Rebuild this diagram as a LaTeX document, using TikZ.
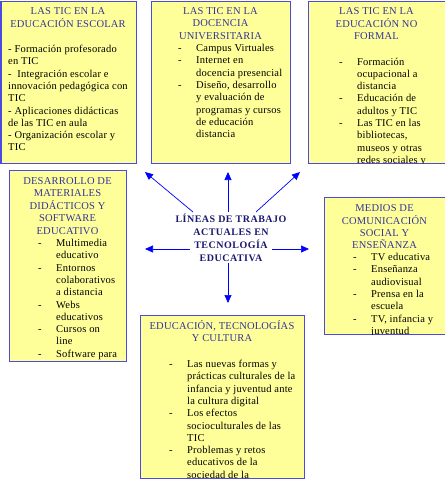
\documentclass[tikz,border=0pt]{standalone}
\usepackage{fontspec}
\setmainfont[LetterSpace=2]{Liberation Serif}
\newfontfamily\ctrfont[LetterSpace=5]{Liberation Serif}
\usetikzlibrary{arrows.meta}
\definecolor{boxfill}{RGB}{255,255,153}
\definecolor{boxline}{RGB}{75,75,225}
\definecolor{ttl}{RGB}{51,51,153}
\definecolor{ctr}{RGB}{25,25,112}
\definecolor{arr}{RGB}{0,0,255}
\newcommand\dsh{\makebox[18pt][l]{-}}
\newcommand\ind{\hspace*{18pt}}
\newcommand\ttlblock[1]{\begin{tabular}[t]{@{}c@{}}#1\end{tabular}}
\newcommand\bodyblock[1]{\begin{tabular}[t]{@{}l@{}}#1\end{tabular}}
\tikzset{
 box/.style={draw=boxline, fill=boxfill, line width=1.3pt, inner sep=0pt, anchor=north west},
 ttlnode/.style={inner sep=0pt, anchor=base, text=ttl, font=\fontsize{10.5}{12.3}\selectfont},
 bodynode/.style={inner sep=0pt, anchor=base west, text=black, font=\fontsize{10.5}{12.3}\selectfont},
 ctrnode/.style={inner sep=0pt, anchor=base, text=ctr, font=\ctrfont\bfseries\fontsize{10}{13}\selectfont},
 conn/.style={draw=arr, line width=0.7pt, -{Triangle[length=8pt,width=7pt]}},
}
\newcommand\inclip[1]{\clip ([shift={(0.7,-0.7)}]#1.south west) rectangle ([shift={(-0.7,0.7)}]#1.north east);}
\begin{document}
\begin{tikzpicture}[x=1pt,y=-1pt]
\useasboundingbox (0,0) rectangle (445,480);
\fill[white] (0,0) rectangle (445,480);
% boxes
\node[box, minimum width=135pt, minimum height=162pt] (b1) at (0.5,0.5) {};
\node[box, minimum width=139pt, minimum height=162pt] (b2) at (151,0.5) {};
\node[box, minimum width=136.5pt, minimum height=162pt] (b3) at (308,0.5) {};
\node[box, minimum width=117pt, minimum height=191pt] (b4) at (9,170) {};
\node[box, minimum width=120.5pt, minimum height=137pt] (b5) at (324,197) {};
\node[box, minimum width=164pt, minimum height=163pt] (b6) at (140,315) {};
% box 1
\begin{scope}
\inclip{b1}
\node[ttlnode] (t1) at (68,14.5) {\ttlblock{LAS TIC EN LA\\EDUCACIÓN ESCOLAR}};
\node[bodynode] (x1) at (8,52.5) {\bodyblock{- Formación profesorado\\en TIC\\-\ \ Integración escolar e\\innovación pedagógica con\\TIC\\- Aplicaciones didácticas\\de las TIC en aula\\- Organización escolar y\\TIC}};
\end{scope}
% box 2
\begin{scope}
\inclip{b2}
\node[ttlnode] (t2) at (220.5,14.5) {\ttlblock{LAS TIC EN LA\\DOCENCIA\\UNIVERSITARIA}};
\node[bodynode] (x2) at (178,51.5) {\bodyblock{\dsh Campus Virtuales\\\dsh Internet en\\\ind docencia presencial\\\dsh Diseño, desarrollo\\\ind y evaluación de\\\ind programas y cursos\\\ind de educación\\\ind distancia}};
\end{scope}
% box 3
\begin{scope}
\inclip{b3}
\node[ttlnode] (t3) at (376.5,14.5) {\ttlblock{LAS TIC EN LA\\EDUCACIÓN NO\\FORMAL}};
\node[bodynode] (x3) at (339,65) {\bodyblock{\dsh Formación\\\ind ocupacional a\\\ind distancia\\\dsh Educación de\\\ind adultos y TIC\\\dsh Las TIC en las\\\ind bibliotecas,\\\ind museos y otras\\\ind redes sociales y}};
\end{scope}
% box 4
\begin{scope}
\inclip{b4}
\node[ttlnode] (t4) at (67.5,184.5) {\ttlblock{DESARROLLO DE\\MATERIALES\\DIDÁCTICOS Y\\SOFTWARE\\EDUCATIVO}};
\node[bodynode] (x4) at (38,246.5) {\bodyblock{\dsh Multimedia\\\ind educativo\\\dsh Entornos\\\ind colaborativos\\\ind a distancia\\\dsh Webs\\\ind educativos\\\dsh Cursos on\\\ind line\\\dsh Software para}};
\end{scope}
% box 5
\begin{scope}
\inclip{b5}
\node[ttlnode] (t5) at (384.5,211.5) {\ttlblock{MEDIOS DE\\COMUNICACIÓN\\SOCIAL Y\\ENSEÑANZA}};
\node[bodynode] (x5) at (353,260.5) {\bodyblock{\dsh TV educativa\\\dsh Enseñanza\\\ind audiovisual\\\dsh Prensa en la\\\ind escuela\\\dsh TV, infancia y\\\ind juventud}};
\end{scope}
% box 6
\begin{scope}
\inclip{b6}
\node[ttlnode] (t6) at (222,329.5) {\ttlblock{EDUCACIÓN, TECNOLOGÍAS\\Y CULTURA}};
\node[bodynode] (x6) at (169,367.5) {\bodyblock{\dsh Las nuevas formas y\\\ind prácticas culturales de la\\\ind infancia y juventud ante\\\ind la cultura digital\\\dsh Los efectos\\\ind socioculturales de las\\\ind TIC\\\dsh Problemas y retos\\\ind educativos de la\\\ind sociedad de la}};
\end{scope}
% centre
\node[ctrnode] (c) at (231,222) {\ttlblock{LÍNEAS DE TRABAJO\\ACTUALES EN\\TECNOLOGÍA\\EDUCATIVA}};
% arrow coordinates
\coordinate (sul) at (193,212); \coordinate (eul) at (145,172);
\coordinate (su) at (228,212);  \coordinate (eu) at (228,172);
\coordinate (sur) at (256,212); \coordinate (eur) at (300,172);
\coordinate (sl) at (190,249);  \coordinate (el) at (145,249);
\coordinate (sr) at (272,249);  \coordinate (er) at (309,249);
\coordinate (sd) at (228,263);  \coordinate (ed) at (228,303);
\draw[conn] (sul) -- (eul);
\draw[conn] (su) -- (eu);
\draw[conn] (sur) -- (eur);
\draw[conn] (sl) -- (el);
\draw[conn] (sr) -- (er);
\draw[conn] (sd) -- (ed);
\end{tikzpicture}
\end{document}
